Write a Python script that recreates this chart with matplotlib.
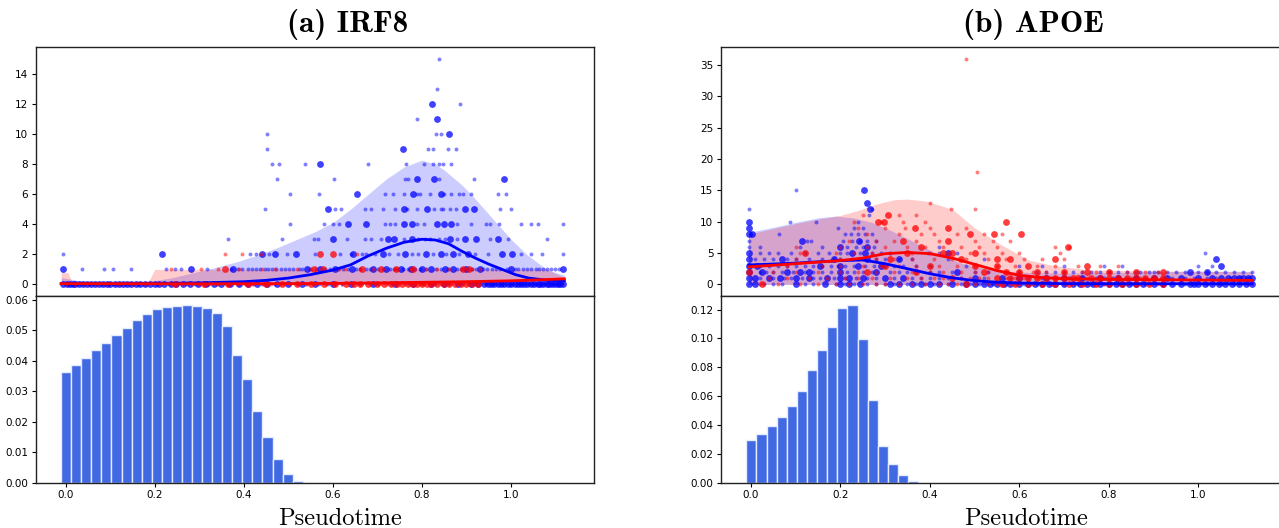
import numpy as np
import matplotlib
matplotlib.use("Agg")
import matplotlib.pyplot as plt

# ---------------------------------------------------------------- data
# Pseudotime histogram: 50 equal bins over [-0.01, 1.12]
bin_lo, bin_hi, n_bins = -0.01, 1.12, 50
irf8_hist = [0.0365, 0.0387, 0.0411, 0.0436, 0.0460, 0.0484, 0.0508, 0.0533,
             0.0555, 0.0570, 0.0578, 0.0582, 0.0585, 0.0580, 0.0575, 0.0556,
             0.0514, 0.0420, 0.0340, 0.0236, 0.0150, 0.0077, 0.0028, 0.0005]
apoe_hist = [0.0296, 0.0340, 0.0396, 0.0456, 0.0533, 0.0633, 0.0779, 0.0921,
             0.1077, 0.1212, 0.1235, 0.0996, 0.0575, 0.0256, 0.0130, 0.0054,
             0.0012]

# IRF8 expression counts: (count level, pseudotime positions)
irf8_blue_small = [
    (15, [0.838]), (13, [0.835]), (12, [0.885]), (11, [0.79]),
    (10, [0.452, 0.831, 0.842]),
    (9, [0.452, 0.813, 0.824, 0.858, 0.876]),
    (8, [0.463, 0.48, 0.537, 0.679, 0.764, 0.805, 0.826, 0.839, 0.847, 0.866]),
    (7, [0.474, 0.603, 0.762, 0.769, 0.839, 0.916]),
    (6, [0.503, 0.569, 0.718, 0.736, 0.759, 0.789, 0.796, 0.819, 0.849, 0.865,
         0.884, 0.893, 0.911, 0.971, 0.99]),
    (5, [0.448, 0.606, 0.618, 0.672, 0.686, 0.713, 0.739, 0.766, 0.79, 0.828,
         0.842, 0.847, 0.863, 0.877, 0.976, 1.0]),
    (4, [0.503, 0.58, 0.6, 0.615, 0.718, 0.729, 0.74, 0.789, 0.805, 0.879,
         0.911, 0.943, 0.954, 0.974, 1.023, 1.045, 1.06, 1.117]),
    (3, [0.365, 0.486, 0.558, 0.566, 0.632, 0.672, 0.685, 0.709, 0.759, 0.792,
         0.808, 0.819, 0.838, 0.851, 0.879, 0.953, 0.994, 1.08]),
    (2, [-0.005, 0.414, 0.428, 0.456, 0.497, 0.561, 0.617, 0.641, 0.666, 0.675,
         0.695, 0.727, 0.746, 0.778, 0.792, 0.824, 0.854, 0.884, 0.92, 0.948,
         1.022, 1.046, 1.069, 1.116]),
    (1, [0.037, 0.087, 0.106, 0.147, 0.225, 0.246, 0.258, 0.318, 0.372, 0.388,
         0.397, 0.409, 0.418, 0.427, 0.436, 0.447, 0.455, 0.463, 0.472, 0.484,
         0.493, 0.502, 0.511, 0.523, 0.531, 0.548, 0.562, 0.583, 0.594, 0.612,
         0.622, 0.633, 0.652, 0.661, 0.674, 0.683, 0.701, 0.712, 0.728, 0.737,
         0.744, 0.758, 0.768, 0.784, 0.796, 0.809, 0.831, 0.843, 0.858, 0.879,
         0.888, 0.913, 0.922, 0.937, 0.946, 0.958, 0.967, 0.976, 0.992, 1.008,
         1.016, 1.027, 1.035, 1.044, 1.056, 1.064, 1.073, 1.082, 1.091, 1.099,
         1.108]),
    (0, [0.005, 0.015, 0.028, 0.042, 0.055, 0.068, 0.082, 0.095, 0.108, 0.122,
         0.135, 0.151, 0.165, 0.178, 0.205, 0.232, 0.25, 0.27, 0.29, 0.32, 0.34,
         0.37, 0.39, 0.42, 0.44, 0.47, 0.49, 0.52, 0.54, 0.57, 0.59, 0.62, 0.66,
         0.7, 0.73, 0.77, 0.8, 0.83, 0.86, 0.89, 0.92, 0.945, 0.96, 0.98, 1.0,
         1.02, 1.04, 1.055, 1.075, 1.095, 1.105]),
]
irf8_blue_big = [
    (12, [0.822]), (11, [0.835]), (10, [0.862]), (9, [0.758]), (8, [0.571]),
    (7, [0.789, 0.827, 0.985]),
    (6, [0.655, 0.78, 0.844]),
    (5, [0.589, 0.759, 0.812, 0.897, 0.916]),
    (4, [0.633, 0.675, 0.759, 0.778, 0.833, 0.849, 0.865]),
    (3, [0.6, 0.723, 0.738, 0.778, 0.863, 0.897, 0.922, 0.971]),
    (2, [0.216, 0.442, 0.471, 0.517, 0.646, 0.713, 0.762, 0.81, 0.842, 0.87,
         0.904, 0.98, 1.003]),
    (1, [-0.005, 0.282, 0.376, 0.541, 0.571, 0.604, 0.643, 0.69, 0.72, 0.752,
         0.776, 0.8, 0.821, 0.851, 0.869, 0.9, 0.93, 1.0, 1.117]),
    (0, [-0.005, 0.004, 0.01, 0.017, 0.022, 0.031, 0.039, 0.048, 0.057, 0.066,
         0.075, 0.084, 0.093, 0.1, 0.11, 0.119, 0.128, 0.138, 0.147, 0.157,
         0.167, 0.178, 0.19, 0.2, 0.21, 0.222, 0.236, 0.248, 0.263, 0.28, 0.298,
         0.315, 0.333, 0.35, 0.37, 0.39, 0.41, 0.43, 0.452, 0.475, 0.5, 0.53,
         0.56, 0.6, 0.64, 0.69, 0.74, 0.78, 0.82, 0.85, 0.88, 0.91, 0.925, 0.94,
         0.948, 0.955, 0.962, 0.97, 0.978, 0.985, 0.993, 1.0, 1.008, 1.015,
         1.022, 1.03, 1.037, 1.045, 1.052, 1.06, 1.066, 1.073, 1.08, 1.086,
         1.093, 1.1, 1.106, 1.111, 1.117]),
]
irf8_red_small = [
    (2, [0.359, 0.397, 0.439, 0.655]),
    (1, [0.237, 0.304, 0.343, 0.39, 0.44, 0.47, 0.52, 0.55, 0.615, 0.628, 0.66,
         0.69, 0.74, 0.775, 0.81, 0.835, 0.86, 0.89, 0.912, 0.93]),
    (0, [0.0, 0.02, 0.045, 0.07, 0.093, 0.12, 0.148, 0.18, 0.213, 0.24, 0.262,
         0.283, 0.3, 0.322, 0.341, 0.363, 0.384, 0.402, 0.421, 0.443, 0.462,
         0.481, 0.503, 0.522, 0.541, 0.563, 0.584, 0.602, 0.621, 0.643, 0.662,
         0.683, 0.704, 0.722, 0.741, 0.763, 0.784, 0.802, 0.823, 0.842, 0.861,
         0.883, 0.904, 0.921]),
]
irf8_red_big = [
    (2, [0.571, 0.6]),
    (1, [0.359, 0.557, 0.577, 0.666, 0.709, 0.742, 0.78, 0.893, 0.906]),
    (0, [0.246, 0.31, 0.365, 0.41, 0.45, 0.485, 0.52, 0.55, 0.58, 0.605, 0.63,
         0.648, 0.66, 0.68, 0.7, 0.715, 0.73, 0.745, 0.755, 0.768, 0.78, 0.79,
         0.8, 0.812, 0.82, 0.835, 0.85, 0.862, 0.875, 0.888, 0.9, 0.912,
         0.925]),
]

# IRF8 smoothed trends: mean curves and upper edge of the spread bands
irf8_blue_band_x = [-0.01, 0.02, 0.06, 0.10, 0.15, 0.19, 0.24, 0.29, 0.34, 0.39,
                    0.44, 0.48, 0.52, 0.56, 0.60, 0.64, 0.68, 0.72, 0.76, 0.80,
                    0.83, 0.85, 0.87, 0.89, 0.91, 0.94, 0.97, 1.00, 1.035, 1.08,
                    1.12]
irf8_blue_band_hi = [0.45, 0.3, 0.12, 0.05, 0.08, 0.2, 0.45, 0.8, 1.15, 1.55,
                     2.05, 2.5, 3.0, 3.5, 4.1, 5.0, 6.0, 7.0, 7.8, 8.25,
                     8.0, 7.6, 7.1, 6.6, 6.0, 5.0, 4.0, 3.0, 2.0, 1.0,
                     0.6]
irf8_red_band_x = [-0.01, 0.005, 0.015, 0.10, 0.18, 0.19, 0.20, 0.60, 1.00,
                   1.08, 1.12]
irf8_red_band_hi = [0.8, 0.8, 0.12, 0.08, 0.1, 0.4, 1.0, 1.0, 1.0, 1.0, 0.45]

irf8_blue_mean_x = [-0.01, 0.1, 0.2, 0.3, 0.4, 0.45, 0.5, 0.55, 0.6, 0.64, 0.68,
                    0.72, 0.76, 0.80, 0.83, 0.86, 0.89, 0.92, 0.95, 0.98, 1.01,
                    1.04, 1.08, 1.12]
irf8_blue_mean = [0.05, 0.03, 0.06, 0.1, 0.18, 0.27, 0.42, 0.65, 0.95, 1.3, 1.9,
                  2.4, 2.8, 3.0, 2.95, 2.7, 2.2, 1.75, 1.35, 1.0, 0.65,
                  0.42, 0.28, 0.25]
irf8_red_mean_x = [-0.01, 0.3, 0.5, 0.6, 0.7, 0.8, 0.9, 1.0, 1.06, 1.12]
irf8_red_mean = [0.05, 0.04, 0.05, 0.07, 0.1, 0.14, 0.18, 0.24, 0.3, 0.37]

# APOE expression counts
apoe_blue_small = [
    (15, [0.10]), (12, [-0.005, 0.27]), (11, [0.265]),
    (10, [0.087, 0.145, 0.24]),
    (9, [0.195, 0.23, 0.25]),
    (8, [0.064, 0.21, 0.224, 0.24, 0.255, 0.27]),
    (7, [-0.005, 0.125, 0.135, 0.205, 0.225, 0.245, 0.26, 0.28]),
    (6, [-0.005, 0.02, 0.11, 0.159, 0.215, 0.235, 0.25, 0.275, 0.42]),
    (5, [0.02, 0.04, 0.06, 0.09, 0.12, 0.15, 0.175, 0.2, 0.215, 0.245, 0.27,
         0.29, 0.31, 0.395, 0.42, 0.46, 1.015]),
    (4, [0.01, 0.03, 0.05, 0.08, 0.1, 0.13, 0.16, 0.185, 0.2, 0.225, 0.25, 0.28,
         0.3, 0.33, 0.36, 0.44, 0.52]),
    (3, [0.02, 0.04, 0.06, 0.08, 0.1, 0.12, 0.14, 0.16, 0.18, 0.195, 0.21, 0.23,
         0.255, 0.275, 0.3, 0.32, 0.34, 0.37, 0.4, 0.48, 0.6, 0.65, 0.7, 0.79,
         0.83, 1.0, 1.03]),
    (2, [0.02, 0.035, 0.05, 0.07, 0.095, 0.12, 0.14, 0.16, 0.18, 0.215, 0.23,
         0.25, 0.27, 0.31, 0.33, 0.35, 0.37, 0.4, 0.42, 0.45, 0.5, 0.53, 0.6,
         0.64, 0.68, 0.72, 0.76, 0.8, 0.82, 0.84, 0.87, 0.9, 0.93, 0.95, 1.0,
         1.04, 1.06, 1.08, 1.1, 1.12, 0.66, 0.7, 0.74, 0.78, 0.86, 0.89, 0.91,
         0.97, 1.02]),
    (1, [0.02, 0.05, 0.075, 0.09, 0.115, 0.14, 0.155, 0.185, 0.21, 0.235, 0.26,
         0.28, 0.32, 0.36, 0.38, 0.4, 0.42, 0.44, 0.47, 0.52, 0.58, 0.62, 0.65,
         0.68, 0.71, 0.74, 0.77, 0.79, 0.81, 0.84, 0.88, 0.9, 0.92, 0.94, 0.97,
         0.99, 1.02, 1.04, 1.07, 1.09, 1.11]),
    (0, [0.03, 0.05, 0.07, 0.12, 0.14, 0.19, 0.21, 0.23, 0.26, 0.28, 0.3, 0.32,
         0.35, 0.37, 0.39, 0.41, 0.44, 0.47, 0.49, 0.51, 0.54, 0.57, 0.59, 0.61,
         0.64, 0.67, 0.7, 0.73, 0.76, 0.79, 0.82, 0.85, 0.88, 0.92, 0.97, 1.02,
         1.05, 1.08, 1.11]),
]
apoe_blue_big = [
    (15, [0.253]), (13, [0.26]), (12, [0.267]), (10, [-0.005]), (9, [-0.005]),
    (8, [-0.005, 0.002]),
    (7, [0.115, 0.242]),
    (6, [0.2, 0.26]),
    (5, [-0.005, 0.225, 0.255, 0.44]),
    (4, [-0.005, 0.07, 0.185, 0.26, 0.33, 1.04]),
    (3, [-0.005, 0.015, 0.155, 0.2, 0.24, 0.29, 1.05]),
    (2, [-0.005, 0.025, 0.08, 0.11, 0.13, 0.2, 0.28, 0.46, 0.98, 1.02]),
    (1, [-0.005, 0.01, 0.04, 0.065, 0.1, 0.13, 0.17, 0.2, 0.22, 0.25, 0.3,
         0.34, 0.5, 0.56, 0.6, 0.86, 0.96, 1.0, 1.05, 1.08, 1.1, 1.12, 0.66,
         0.7, 0.74, 0.78, 0.82, 0.9, 0.93, 1.03, 1.065, 1.09, 1.11]),
    (0, [-0.005, 0.01, 0.1, 0.165, 0.2, 0.22, 0.245, 0.31, 0.33, 0.36, 0.38,
         0.4, 0.42, 0.45, 0.48, 0.5, 0.52, 0.55, 0.58, 0.6, 0.62, 0.65, 0.68,
         0.72, 0.75, 0.78, 0.8, 0.83, 0.86, 0.9, 0.94, 0.98, 1.0, 1.03, 1.06,
         1.09, 1.12, 0.535, 0.565, 0.635, 0.665, 0.7, 0.735, 0.765, 0.815,
         0.845, 0.875, 0.92, 0.96, 0.99, 1.015, 1.045, 1.075, 1.105]),
]
apoe_red_small = [
    (36, [0.48]), (18, [0.506]), (13, [0.40]), (12, [0.447, 0.50]),
    (11, [0.25, 0.33, 0.37]),
    (10, [0.23, 0.29, 0.34, 0.39]),
    (9, [0.24, 0.3, 0.345, 0.4, 0.48]),
    (8, [0.26, 0.33, 0.38, 0.41, 0.46, 0.52, 0.56]),
    (7, [0.22, 0.28, 0.32, 0.37, 0.42, 0.5, 0.54, 0.58]),
    (6, [0.1, 0.2, 0.26, 0.3, 0.35, 0.39, 0.43, 0.47, 0.51, 0.55, 0.68, 0.71]),
    (5, [0.11, 0.19, 0.23, 0.27, 0.31, 0.36, 0.4, 0.44, 0.49, 0.52, 0.56, 0.6,
         0.69]),
    (4, [0.1, 0.2, 0.24, 0.28, 0.32, 0.36, 0.41, 0.45, 0.48, 0.53, 0.57, 0.61,
         0.65, 0.7]),
    (3, [0.08, 0.16, 0.2, 0.25, 0.29, 0.33, 0.37, 0.42, 0.46, 0.5, 0.55, 0.59,
         0.64, 0.68, 0.73, 0.78, 0.82]),
    (2, [0.05, 0.1, 0.15, 0.2, 0.24, 0.28, 0.32, 0.36, 0.4, 0.43, 0.47, 0.5,
         0.53, 0.57, 0.6, 0.63, 0.66, 0.7, 0.74, 0.77, 0.8, 0.84, 0.88, 0.91]),
    (1, [0.04, 0.08, 0.13, 0.17, 0.21, 0.24, 0.27, 0.31, 0.35, 0.38, 0.41, 0.43,
         0.47, 0.49, 0.51, 0.53, 0.57, 0.59, 0.61, 0.64, 0.68, 0.71, 0.75, 0.78,
         0.82, 0.85, 0.87, 0.9]),
    (0, [0.02, 0.06, 0.11, 0.15, 0.19, 0.22, 0.25, 0.28, 0.3, 0.33, 0.36, 0.39,
         0.42, 0.44, 0.46, 0.5, 0.53, 0.55, 0.58, 0.6, 0.63, 0.65, 0.67, 0.7,
         0.72, 0.75, 0.77, 0.79, 0.82, 0.84, 0.87, 0.89, 0.91]),
]
apoe_red_big = [
    (11, [0.307]), (10, [0.285, 0.297, 0.57]), (9, [0.366, 0.44]),
    (8, [0.49, 0.543, 0.603]),
    (7, [0.34, 0.44]),
    (6, [0.38, 0.708]),
    (5, [0.12, 0.35, 0.43, 0.45, 0.5]),
    (4, [0.31, 0.47, 0.55, 0.58, 0.68]),
    (3, [0.3, 0.4, 0.5, 0.55, 0.62, 0.75]),
    (2, [-0.005, 0.26, 0.37, 0.52, 0.57, 0.6, 0.64, 0.7, 0.75, 0.8, 0.86,
         0.92]),
    (1, [0.45, 0.55, 0.58, 0.62, 0.66, 0.7, 0.73, 0.76, 0.8, 0.84, 0.88, 0.92,
         0.6, 0.64, 0.68, 0.72, 0.78, 0.82, 0.86, 0.9]),
    (0, [0.025, 0.48, 0.56, 0.62, 0.68, 0.74, 0.8, 0.86, 0.92, 0.59, 0.65,
         0.71, 0.77, 0.83, 0.89]),
]

# APOE smoothed trends
apoe_blue_band_x = [-0.005, 0.05, 0.10, 0.15, 0.19, 0.23, 0.27, 0.31, 0.35,
                    0.39, 0.43, 0.47, 0.52, 0.57, 0.62, 0.70, 0.80, 0.90, 1.00,
                    1.12]
apoe_blue_band_hi = [8.3, 9.1, 9.9, 10.6, 10.9, 10.6, 9.9, 8.7, 7.3,
                     5.8, 4.5, 3.4, 2.6, 2.1, 1.9, 1.8, 1.9, 2.0, 2.1,
                     2.1]
apoe_red_band_x = [-0.005, 0.05, 0.10, 0.15, 0.20, 0.24, 0.28, 0.32, 0.35,
                   0.39, 0.45, 0.50, 0.56, 0.62, 0.67, 0.71, 0.76, 0.85, 1.00,
                   1.12]
apoe_red_band_hi = [8.0, 8.9, 9.7, 10.4, 11.0, 11.8, 12.8, 13.5, 13.6,
                    13.3, 12.0, 9.0, 6.3, 3.9, 3.1, 2.7, 2.3, 2.2, 2.1,
                    2.0]
apoe_blue_mean_x = [-0.005, 0.05, 0.10, 0.15, 0.20, 0.25, 0.30, 0.35, 0.40,
                    0.45, 0.50, 0.55, 0.60, 0.70, 0.85, 1.00, 1.12]
apoe_blue_mean = [3.1, 3.25, 3.4, 3.6, 3.8, 3.9, 3.3, 2.5, 1.7,
                  1.05, 0.6, 0.35, 0.22, 0.12, 0.1, 0.1, 0.1]
apoe_red_mean_x = [-0.005, 0.05, 0.10, 0.15, 0.20, 0.25, 0.30, 0.35, 0.40,
                   0.45, 0.50, 0.55, 0.60, 0.65, 0.70, 0.80, 0.90, 1.00, 1.12]
apoe_red_mean = [2.8, 3.05, 3.3, 3.55, 3.8, 4.2, 4.9, 5.1, 4.9,
                 4.2, 3.2, 2.2, 1.45, 1.1, 0.9, 0.8, 0.75, 0.7, 0.65]

gene_titles = ["(a) IRF8", "(b) APOE"]
xlabel_text = "Pseudotime"

# ---------------------------------------------------------------- drawing
W, H = 1279, 528
fig = plt.figure(figsize=(W / 100, H / 100), dpi=100)
plt.rcParams["font.family"] = ["DejaVu Sans"]

XLIM = (-0.0665, 1.1865)
BLUE, RED = "#0000ff", "#ff0000"
HIST_C = "#4169e1"


def px_rect(x0, y0, x1, y1):
    return [x0 / W, 1 - y1 / H, (x1 - x0) / W, (y1 - y0) / H]


def expand(rows):
    xs, ys = [], []
    for level, pts in rows:
        xs.extend(pts)
        ys.extend([level] * len(pts))
    return np.array(xs), np.array(ys)


def style(ax):
    for sp in ax.spines.values():
        sp.set_linewidth(1.0)
        sp.set_color("#222222")
    ax.tick_params(labelsize=7.5, length=3, width=0.8, pad=2.5)
    ax.set_xlim(*XLIM)


panels = [
    dict(left=36, width=558, title_cx=348, label_cx=340,
         bs=irf8_blue_small, bb=irf8_blue_big, rs=irf8_red_small, rb=irf8_red_big,
         bbx=irf8_blue_band_x, bbh=irf8_blue_band_hi,
         rbx=irf8_red_band_x, rbh=irf8_red_band_hi,
         bmx=irf8_blue_mean_x, bm=irf8_blue_mean,
         rmx=irf8_red_mean_x, rm=irf8_red_mean, hist=irf8_hist),
    dict(left=721, width=561, title_cx=1033, label_cx=1026,
         bs=apoe_blue_small, bb=apoe_blue_big, rs=apoe_red_small, rb=apoe_red_big,
         bbx=apoe_blue_band_x, bbh=apoe_blue_band_hi,
         rbx=apoe_red_band_x, rbh=apoe_red_band_hi,
         bmx=apoe_blue_mean_x, bm=apoe_blue_mean,
         rmx=apoe_red_mean_x, rm=apoe_red_mean, hist=apoe_hist),
]

edges = np.linspace(bin_lo, bin_hi, n_bins + 1)

for i, p in enumerate(panels):
    x0 = p["left"]
    x1 = x0 + p["width"]
    ax_top = fig.add_axes(px_rect(x0, 47.3, x1, 295.7))
    ax_bot = fig.add_axes(px_rect(x0, 295.7, x1, 482.7))

    # spread bands
    ax_top.fill_between(p["bbx"], 0, p["bbh"], color=BLUE, alpha=0.2,
                        linewidth=0, zorder=1)
    ax_top.fill_between(p["rbx"], 0, p["rbh"], color=RED, alpha=0.2,
                        linewidth=0, zorder=1)

    # observed counts
    for rows, col, s, a in [(p["bs"], BLUE, 8, 0.5), (p["bb"], BLUE, 24, 0.75),
                            (p["rs"], RED, 8, 0.5), (p["rb"], RED, 24, 0.75)]:
        xs, ys = expand(rows)
        ax_top.scatter(xs, ys, s=s, color=col, alpha=a, linewidths=0, zorder=2)

    # mean trends
    ax_top.plot(p["bmx"], p["bm"], color=BLUE, lw=2, zorder=3)
    ax_top.plot(p["rmx"], p["rm"], color=RED, lw=2, zorder=3)

    style(ax_top)
    ax_top.tick_params(bottom=False, labelbottom=False)

    heights = list(p["hist"]) + [0.0] * (n_bins - len(p["hist"]))
    ax_bot.bar(edges[:-1], heights, width=np.diff(edges), align="edge",
               color=HIST_C, edgecolor="#e6ecff", linewidth=1.0)
    style(ax_bot)
    ax_bot.set_xticks([0.0, 0.2, 0.4, 0.6, 0.8, 1.0])

    fig.text(p["title_cx"] / W, 1 - 32 / H, gene_titles[i], family="cmb10",
             fontsize=22.5, ha="center", va="baseline")
    fig.text(p["label_cx"] / W, 1 - 525 / H, xlabel_text, family="cmr10",
             fontsize=17.6, ha="center", va="baseline")

fig.savefig("out.png", dpi=100)
